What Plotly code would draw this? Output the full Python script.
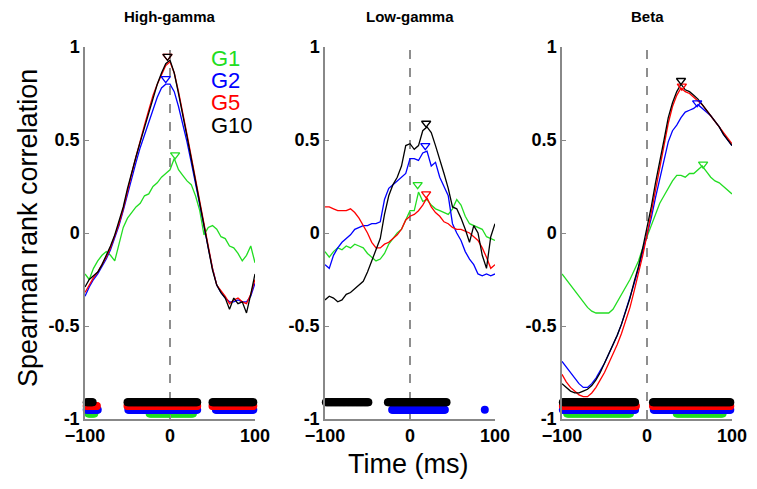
import numpy as np
import plotly.graph_objects as go

# time base (ms) of the correlation curves
T = list(range(-100, 101, 5))

# High-gamma panel
hg_g1 = [-0.22, -0.25, -0.19, -0.15, -0.12, -0.10, -0.12, -0.15, -0.06, 0.03, 0.08, 0.11, 0.14, 0.16, 0.20,
         0.21, 0.25, 0.27, 0.30, 0.32, 0.34, 0.40, 0.34, 0.31, 0.28, 0.26, 0.20, 0.12, -0.01, 0.03, 0.04,
         0.02, -0.02, -0.03, -0.07, -0.08, -0.11, -0.15, -0.12, -0.07, -0.16]
hg_g2 = [-0.34, -0.29, -0.25, -0.22, -0.18, -0.14, -0.09, -0.03, 0.04, 0.12, 0.21, 0.30, 0.38, 0.46, 0.53,
         0.60, 0.67, 0.73, 0.78, 0.80, 0.80, 0.76, 0.68, 0.59, 0.49, 0.38, 0.27, 0.15, 0.04, -0.08, -0.19,
         -0.28, -0.32, -0.35, -0.37, -0.37, -0.36, -0.37, -0.37, -0.34, -0.27]
hg_g5 = [-0.32, -0.28, -0.24, -0.21, -0.17, -0.13, -0.08, -0.02, 0.05, 0.13, 0.23, 0.32, 0.41, 0.50, 0.58,
         0.66, 0.74, 0.80, 0.85, 0.90, 0.92, 0.86, 0.76, 0.65, 0.53, 0.41, 0.29, 0.17, 0.05, -0.07, -0.19,
         -0.28, -0.31, -0.34, -0.38, -0.36, -0.35, -0.37, -0.38, -0.33, -0.25]
hg_g10 = [-0.29, -0.25, -0.23, -0.21, -0.17, -0.12, -0.07, -0.01, 0.06, 0.14, 0.24, 0.33, 0.41, 0.49, 0.57,
          0.65, 0.73, 0.80, 0.86, 0.91, 0.93, 0.86, 0.75, 0.64, 0.52, 0.40, 0.28, 0.16, 0.04, -0.08, -0.20,
          -0.28, -0.32, -0.35, -0.41, -0.35, -0.38, -0.37, -0.43, -0.33, -0.22]

# Low-gamma panel
lg_g1 = [-0.10, -0.13, -0.10, -0.08, -0.09, -0.07, -0.08, -0.06, -0.07, -0.08, -0.11, -0.13, -0.15, -0.14,
         -0.11, -0.06, -0.03, 0.00, 0.02, 0.07, 0.12, 0.12, 0.22, 0.17, 0.18, 0.15, 0.13, 0.12, 0.11, 0.10,
         0.13, 0.18, 0.15, 0.09, 0.05, 0.04, 0.03, 0.02, -0.02, -0.03, -0.04]
lg_g2 = [-0.17, -0.19, -0.12, -0.08, -0.05, -0.03, -0.01, 0.02, 0.03, 0.04, 0.04, 0.05, 0.05, 0.06, 0.18,
         0.24, 0.26, 0.28, 0.30, 0.32, 0.40, 0.40, 0.39, 0.43, 0.44, 0.36, 0.38, 0.30, 0.25, 0.20, 0.05,
         0.00, -0.04, -0.10, -0.14, -0.17, -0.22, -0.23, -0.22, -0.23, -0.22]
lg_g5 = [0.14, 0.14, 0.13, 0.12, 0.12, 0.12, 0.13, 0.11, 0.08, 0.04, 0.00, -0.05, -0.08, -0.08, -0.06,
         -0.05, -0.03, -0.01, 0.02, 0.07, 0.09, 0.10, 0.12, 0.15, 0.19, 0.14, 0.11, 0.09, 0.06, 0.05, 0.03,
         0.02, 0.02, 0.01, 0.00, -0.02, -0.04, -0.08, -0.13, -0.19, -0.17]
lg_g10 = [-0.36, -0.34, -0.35, -0.37, -0.36, -0.33, -0.32, -0.30, -0.28, -0.26, -0.21, -0.15, -0.09, -0.03,
          0.10, 0.20, 0.26, 0.30, 0.36, 0.47, 0.48, 0.45, 0.47, 0.55, 0.57, 0.54, 0.47, 0.40, 0.32, 0.24,
          0.14, 0.13, 0.08, 0.02, -0.05, 0.04, 0.00, -0.12, -0.19, -0.02, 0.05]

# Beta panel
b_g1 = [-0.22, -0.25, -0.28, -0.31, -0.34, -0.37, -0.40, -0.42, -0.43, -0.43, -0.43, -0.43, -0.41, -0.37,
        -0.33, -0.29, -0.25, -0.20, -0.15, -0.08, -0.02, 0.04, 0.10, 0.16, 0.20, 0.24, 0.28, 0.31, 0.31,
        0.30, 0.32, 0.32, 0.34, 0.36, 0.33, 0.30, 0.28, 0.27, 0.25, 0.23, 0.21]
b_g2 = [-0.69, -0.72, -0.75, -0.78, -0.81, -0.83, -0.83, -0.81, -0.78, -0.74, -0.70, -0.65, -0.60, -0.55,
        -0.49, -0.42, -0.35, -0.27, -0.19, -0.10, -0.02, 0.08, 0.19, 0.29, 0.39, 0.49, 0.55, 0.58, 0.62,
        0.65, 0.66, 0.67, 0.69, 0.67, 0.65, 0.63, 0.60, 0.57, 0.53, 0.50, 0.47]
b_g5 = [-0.76, -0.80, -0.83, -0.85, -0.87, -0.88, -0.88, -0.86, -0.83, -0.79, -0.75, -0.70, -0.65, -0.60,
        -0.54, -0.47, -0.40, -0.31, -0.22, -0.12, -0.01, 0.11, 0.24, 0.36, 0.48, 0.59, 0.68, 0.74, 0.78,
        0.76, 0.75, 0.73, 0.71, 0.69, 0.66, 0.63, 0.60, 0.57, 0.54, 0.51, 0.48]
b_g10 = [-0.81, -0.83, -0.85, -0.86, -0.86, -0.85, -0.84, -0.82, -0.79, -0.75, -0.70, -0.65, -0.60, -0.55,
         -0.49, -0.42, -0.35, -0.26, -0.18, -0.08, 0.03, 0.14, 0.27, 0.38, 0.50, 0.62, 0.70, 0.76, 0.80,
         0.77, 0.76, 0.74, 0.72, 0.69, 0.66, 0.63, 0.60, 0.57, 0.53, 0.50, 0.47]

# peak markers (time, value) per group
hg_peaks = {'G1': (6, 0.42), 'G2': (-5, 0.83), 'G5': (-3, 0.95), 'G10': (-3, 0.95)}
lg_peaks = {'G1': (9, 0.26), 'G2': (18, 0.47), 'G5': (19, 0.21), 'G10': (19, 0.59)}
b_peaks = {'G1': (66, 0.37), 'G2': (59, 0.70), 'G5': (41, 0.79), 'G10': (40, 0.82)}

# significant time spans (ms) per group
hg_sig = {'G1': [(-96, -89), (-24, 27)],
          'G2': [(-98, -85), (-49, 32), (54, 98)],
          'G5': [(-98, -86), (-50, 32), (50, 98)],
          'G10': [(-98, -91), (-50, 32), (50, 98)]}
lg_sig = {'G2': [(-21, 41), (88, 88)],
          'G10': [(-99, -49), (-26, 43)]}
b_sig = {'G1': [(-94, -20), (35, 89)],
         'G2': [(-99, -14), (8, 98)],
         'G5': [(-99, -13), (7, 98)],
         'G10': [(-99, -14), (7, 98)]}

groups = ['G1', 'G2', 'G5', 'G10']
colors = {'G1': '#22dd22', 'G2': '#0000ff', 'G5': '#ff0000', 'G10': '#000000'}
sig_row = {'G1': -0.97, 'G2': -0.95, 'G5': -0.93, 'G10': -0.91}

panels = [
    ('High-gamma', {'G1': hg_g1, 'G2': hg_g2, 'G5': hg_g5, 'G10': hg_g10}, hg_peaks, hg_sig),
    ('Low-gamma', {'G1': lg_g1, 'G2': lg_g2, 'G5': lg_g5, 'G10': lg_g10}, lg_peaks, lg_sig),
    ('Beta', {'G1': b_g1, 'G2': b_g2, 'G5': b_g5, 'G10': b_g10}, b_peaks, b_sig),
]

# page has an 8px body margin, so the figure is shrunk and positions shifted by it
OFF = 8
W, H = 757 - 2 * OFF, 489 - 2 * OFF


def fx(px):
    return (px - OFF) / W


def fy(py):
    return 1 - (py - OFF) / H


x_dom = [(85, 255), (325, 495), (562, 732)]  # pixel spans of panels in the page
y_dom = [fy(419), fy(47)]

fig = go.Figure()
tickfont = dict(family='Liberation Sans', size=18, color='black', weight='bold')

for i, (title, curves, peaks, sig) in enumerate(panels):
    n = '' if i == 0 else str(i + 1)
    xa, ya = 'x' + n, 'y' + n

    # significance dots
    for g in groups:
        for a, b in sig.get(g, []):
            xs = np.arange(a, b + 1, 1)
            fig.add_trace(go.Scatter(x=xs, y=[sig_row[g]] * len(xs), mode='markers',
                                     marker=dict(color=colors[g], size=8, line_width=0),
                                     xaxis=xa, yaxis=ya, showlegend=False, cliponaxis=False,
                                     hoverinfo='skip'))
    # curves
    for g in groups:
        fig.add_trace(go.Scatter(x=T, y=curves[g], mode='lines',
                                 line=dict(color=colors[g], width=1.3),
                                 xaxis=xa, yaxis=ya, showlegend=False))
    # peak triangles
    for g in groups:
        px, py = peaks[g]
        fig.add_trace(go.Scatter(x=[px], y=[py], mode='markers',
                                 marker=dict(symbol='triangle-down-open', size=8,
                                             color=colors[g], line=dict(width=1.3, color=colors[g])),
                                 xaxis=xa, yaxis=ya, showlegend=False, cliponaxis=False))

    x0, x1 = x_dom[i]
    fig.update_layout({
        'xaxis' + n: dict(domain=[fx(x0), fx(x1)], range=[-100, 100], anchor=ya,
                          tickvals=[-100, 0, 100], ticks='inside', ticklen=4, tickcolor='#888',
                          showline=True, linecolor='#888', linewidth=1.5, showgrid=False,
                          zeroline=False, tickfont=tickfont),
        'yaxis' + n: dict(domain=y_dom, range=[-1, 1], anchor=xa,
                          tickvals=[-1, -0.5, 0, 0.5, 1], ticktext=['-1', '-0.5', '0', '0.5', '1'],
                          ticks='inside', ticklen=4, tickcolor='#888',
                          showline=True, linecolor='#888', linewidth=1.5, showgrid=False,
                          zeroline=False, tickfont=tickfont),
    })
    fig.add_shape(type='line', x0=0, x1=0, y0=-1, y1=1, xref=xa, yref=ya, layer='below',
                  line=dict(color='#444', width=1.2, dash='dash'))
    fig.add_annotation(text=title, x=fx((x0 + x1) / 2), y=fy(17), xref='paper', yref='paper',
                       xanchor='center', yanchor='middle', showarrow=False,
                       font=dict(family='Liberation Sans', size=15, color='black', weight='bold'))

# group legend written inside the first panel
for g, yv in zip(groups, [0.94, 0.82, 0.70, 0.58]):
    fig.add_annotation(text=g, x=46, y=yv, xref='x', yref='y', xanchor='left', yanchor='middle',
                       showarrow=False, font=dict(family='Liberation Sans', size=22, color=colors[g]))

fig.add_annotation(text='Time (ms)', x=fx(408), y=fy(464), xref='paper', yref='paper',
                   xanchor='center', yanchor='middle', showarrow=False,
                   font=dict(family='Liberation Sans', size=27, color='black'))
fig.add_annotation(text='Spearman rank correlation', x=fx(28), y=fy(228), xref='paper',
                   yref='paper', xanchor='center', yanchor='middle', textangle=-90, showarrow=False,
                   font=dict(family='Liberation Sans', size=27, color='black'))

fig.update_layout(width=W, height=H, margin=dict(l=0, r=0, t=0, b=0),
                  paper_bgcolor='white', plot_bgcolor='white', template='none', showlegend=False)

fig.write_html("out.html")
